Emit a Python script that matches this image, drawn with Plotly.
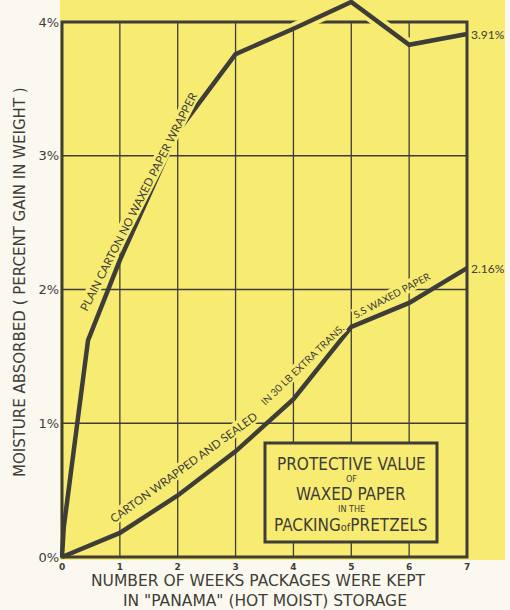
import plotly.graph_objects as go

# ---- data ----
weeks_plain = [0, 0.03, 0.45, 1, 2, 3, 4, 5, 6, 7]
moisture_plain = [0, 0.22, 1.62, 2.22, 3.18, 3.76, 3.95, 4.15, 3.83, 3.91]
weeks_waxed = [0, 0.5, 1, 2, 3, 4, 5, 6, 7]
moisture_waxed = [0, 0.09, 0.18, 0.46, 0.79, 1.18, 1.72, 1.90, 2.16]
end_labels = ["3.91%", "2.16%"]
x_ticks = [0, 1, 2, 3, 4, 5, 6, 7]
x_ticktext = ["<b>0</b>", "<b>1</b>", "<b>2</b>", "<b>3</b>", "<b>4</b>", "<b>5</b>", "<b>6</b>", "<b>7</b>"]
y_ticks = [0, 1, 2, 3, 4]
y_ticktext = ["0%", "1%", "2%", "3%", "4%"]
plain_label = "PLAIN CARTON NO WAXED PAPER WRAPPER"
waxed_label_parts = ["CARTON WRAPPED AND SEALED", "IN 30 LB EXTRA TRANS.", "S.S WAXED PAPER"]
box_lines = ["PROTECTIVE VALUE", "OF", "WAXED PAPER", "IN THE",
             "PACKING<span style='font-size:11px'>of</span>PRETZELS"]
y_title = "MOISTURE ABSORBED ( PERCENT GAIN IN WEIGHT )"
x_title_1 = "NUMBER OF WEEKS PACKAGES WERE KEPT"
x_title_2 = "IN \"PANAMA\" (HOT MOIST) STORAGE"

YELLOW = "#f7eb72"
CREAM = "#fbf9ef"
INK = "#3e3d37"
FONT = "Lato, 'Open Sans', sans-serif"
WIDE = "'DejaVu Sans', Verdana, sans-serif"
NARROW = "'Liberation Sans Narrow', 'DejaVu Sans Condensed', 'Roboto Condensed', 'Arial Narrow', sans-serif"

W, H = 510, 610
ML, MR, MT, MB = 60, 41, 0, 50
xr = [-0.0346, 7.0346]
yr = [-0.0224, 4.1645]
pw = W - ML - MR
ph = H - MT - MB


def px_to_data(px, py):
    x = xr[0] + (px - ML) / pw * (xr[1] - xr[0])
    y = yr[0] + (H - MB - py) / ph * (yr[1] - yr[0])
    return x, y


def px_to_paper(px, py):
    return (px - ML) / pw, (H - MB - py) / ph


fig = go.Figure()

fig.add_trace(go.Scatter(x=weeks_plain[6:9], y=moisture_plain[6:9], mode="lines",
                         line=dict(color=YELLOW, width=12), hoverinfo="skip"))
fig.add_trace(go.Scatter(x=weeks_plain, y=moisture_plain, mode="lines",
                         line=dict(color=INK, width=4.5), name="Plain carton"))
fig.add_trace(go.Scatter(x=weeks_waxed, y=moisture_waxed, mode="lines",
                         line=dict(color=INK, width=4.5), name="Waxed paper"))

shapes = []
x0p, y0p = px_to_paper(60, 560)
x1p, y1p = px_to_paper(505, 0)
shapes.append(dict(type="rect", xref="paper", yref="paper", x0=x0p, x1=x1p, y0=y0p, y1=y1p,
                   fillcolor=YELLOW, line=dict(width=0), layer="below"))
for xv in x_ticks[1:-1]:
    shapes.append(dict(type="line", xref="x", yref="y", x0=xv, x1=xv, y0=0, y1=y_ticks[-1],
                       line=dict(color=INK, width=1.3), layer="below"))
for yv in y_ticks[1:-1]:
    shapes.append(dict(type="line", xref="x", yref="y", x0=0, x1=x_ticks[-1], y0=yv, y1=yv,
                       line=dict(color=INK, width=1.3), layer="below"))
shapes.append(dict(type="rect", xref="x", yref="y", x0=0, x1=x_ticks[-1], y0=0, y1=y_ticks[-1],
                   line=dict(color=INK, width=3), layer="below"))

annotations = []
annotations.append(dict(x=weeks_plain[-1], y=moisture_plain[-1], xref="x", yref="y",
                        text=end_labels[0], showarrow=False, xanchor="left", yanchor="middle",
                        xshift=2, font=dict(family=FONT, size=12, color=INK)))
annotations.append(dict(x=weeks_waxed[-1], y=moisture_waxed[-1], xref="x", yref="y",
                        text=end_labels[1], showarrow=False, xanchor="left", yanchor="middle",
                        xshift=2, font=dict(family=FONT, size=12, color=INK)))

lx, ly = px_to_data(138, 201)
annotations.append(dict(x=lx, y=ly, xref="x", yref="y", text=plain_label, textangle=-63,
                        xanchor="center", yanchor="middle",
                        showarrow=False, bgcolor=YELLOW, borderpad=0,
                        font=dict(family=FONT, size=11.5, color=INK)))
for (px, py, ang, fs), txt in zip([(183, 467, -36, 11.5), (302, 365, -44, 10.2), (392, 295, -28, 10)],
                                  waxed_label_parts):
    ax, ay = px_to_data(px, py)
    annotations.append(dict(x=ax, y=ay, xref="x", yref="y", text=txt, textangle=ang,
                            xanchor="center", yanchor="middle",
                            showarrow=False, bgcolor=YELLOW, borderpad=0,
                            font=dict(family=FONT, size=fs, color=INK)))

bx0, by0 = px_to_paper(265, 542)
bx1, by1 = px_to_paper(437, 443)
shapes.append(dict(type="rect", xref="paper", yref="paper", x0=bx0, x1=bx1, y0=by0, y1=by1,
                   fillcolor=YELLOW, line=dict(color=INK, width=3), layer="above"))
box_y = [464, 479, 494, 509, 525]
box_size = [17, 9, 17, 9, 17]
for txt, py, fs in zip(box_lines, box_y, box_size):
    ax, ay = px_to_paper(351, py)
    annotations.append(dict(x=ax, y=ay, xref="paper", yref="paper", text=txt, showarrow=False,
                            xanchor="center", yanchor="middle",
                            font=dict(family=NARROW, size=fs, color=INK)))

tx, ty = px_to_paper(20, 282)
annotations.append(dict(x=tx, y=ty, xref="paper", yref="paper", text=y_title, textangle=-90,
                        xanchor="center", yanchor="middle",
                        showarrow=False, font=dict(family=WIDE, size=15, color=INK)))
tx, ty = px_to_paper(258, 581)
annotations.append(dict(x=tx, y=ty, xref="paper", yref="paper", text=x_title_1,
                        xanchor="center", yanchor="middle",
                        showarrow=False, font=dict(family=WIDE, size=15.5, color=INK)))
tx, ty = px_to_paper(265, 601)
annotations.append(dict(x=tx, y=ty, xref="paper", yref="paper", text=x_title_2,
                        xanchor="center", yanchor="middle",
                        showarrow=False, font=dict(family=WIDE, size=15.5, color=INK)))

fig.update_layout(
    width=W, height=H,
    margin=dict(l=ML, r=MR, t=MT, b=MB),
    paper_bgcolor=CREAM, plot_bgcolor=YELLOW,
    showlegend=False,
    shapes=shapes, annotations=annotations,
    xaxis=dict(range=xr, showgrid=False, zeroline=False, showline=False,
               tickvals=x_ticks, ticktext=x_ticktext, ticks="",
               tickfont=dict(family=WIDE, size=9, color=INK)),
    yaxis=dict(range=yr, showgrid=False, zeroline=False, showline=False,
               tickvals=y_ticks, ticktext=y_ticktext, ticks="",
               tickfont=dict(family=WIDE, size=13, color=INK)),
)

fig.write_html("out.html", config={"displayModeBar": False},
               post_script="document.body.style.margin='0';document.body.style.padding='0';")
